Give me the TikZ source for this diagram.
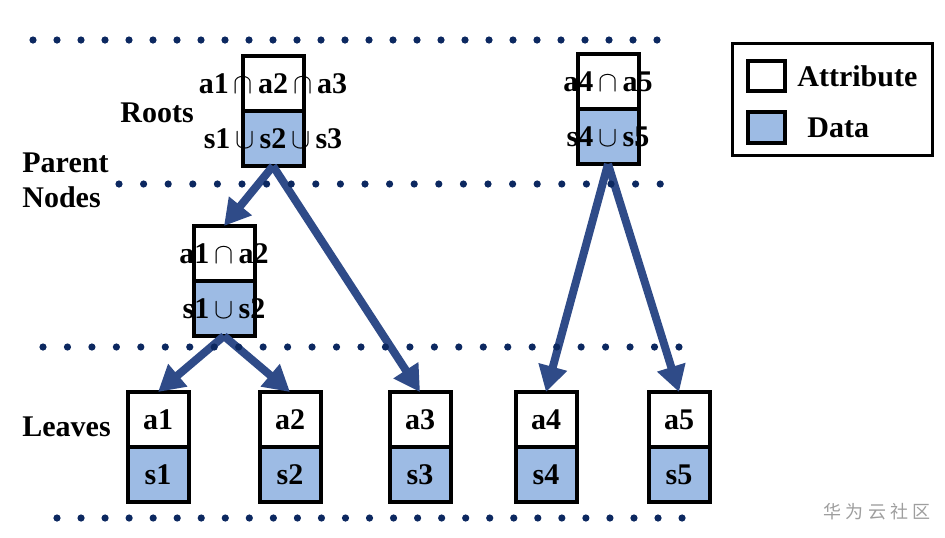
\documentclass[tikz,border=0pt]{standalone}
\usepackage{fontspec}
\setmainfont{Liberation Serif}
\newfontfamily\cjk{Noto Sans CJK SC}
\usetikzlibrary{positioning,arrows.meta}

\definecolor{cellblue}{RGB}{157,187,228}
\definecolor{dotnavy}{RGB}{12,40,96}
\definecolor{arrownavy}{RGB}{47,75,136}
\newcommand{\spill}[1]{\makebox[0pt]{#1}}

\begin{document}
\begin{tikzpicture}[%
    x=0.5pt,
    y=-0.5pt,
    font=\fontsize{15}{17.5}\selectfont\bfseries,
    >={Triangle[length=13pt,width=14pt]},
    attr/.style={%
      rectangle,
      minimum width=30.5pt,
      minimum height=27.5pt,
      inner sep=0pt,
      outer sep=0pt,
      line width=2pt,
      fill=white,
      draw
    },
    data/.style={attr, fill=cellblue},
    link/.style={->, draw=arrownavy, line width=4pt},
    tag/.style={inner sep=0pt, anchor=west}
  ]
    \useasboundingbox (0,0) rectangle (945,537);

    % roots and parent node
    \node[attr] (a123) at (273,83.5) {\spill{a1\,$\cap$\,a2\,$\cap$\,a3}};
    \node[data] (s123) [below=0pt of a123] {\spill{s1\,$\cup$\,s2\,$\cup$\,s3}};
    \node[attr] (a45) at (608,81.5) {\spill{a4\,$\cap$\,a5}};
    \node[data] (s45) [below=0pt of a45] {\spill{s4\,$\cup$\,s5}};
    \node[attr] (a12) at (224,253.5) {\spill{a1\,$\cap$\,a2}};
    \node[data] (s12) [below=0pt of a12] {\spill{s1\,$\cup$\,s2}};

    % leaves
    \foreach \n/\x in {1/158,2/290,3/420,4/546,5/679} {
      \node[attr] (a\n) at (\x,419.5) {a\n};
      \node[data] (s\n) [below=0pt of a\n] {s\n};
    }

    \foreach \f/\t in {s123/a12,s123/a3,s12/a1,s12/a2,s45/a4,s45/a5}
      \draw[link] (\f.south) -- (\t.north);

    % level labels
    \node[tag] (roots) at (120,113) {Roots};
    \node[tag, align=left] (parent) at (22,180.5) {Parent\\Nodes};
    \node[tag] (leaves) at (22,427) {Leaves};

    % legend
    \node[draw, line width=1.5pt, minimum width=100pt, minimum height=56pt,
      outer sep=0pt] (legend) at (832.5,99.5) {};
    \node[attr, minimum width=18.5pt, minimum height=15pt] (keyattr) at (766.5,76) {};
    \node[data, minimum width=18.5pt, minimum height=15.5pt] (keydata) at (766.5,127.5) {};
    \node[tag, right=6pt of keyattr] (attrtext) {Attribute};
    \node[tag, right=11pt of keydata] (datatext) {Data};

    % dotted level lines
    \foreach \i in {0,...,26} \fill[dotnavy] (33+24*\i,40) circle (1.8pt);
    \foreach \i in {0,...,22} \fill[dotnavy] (119+24.6*\i,184) circle (1.8pt);
    \foreach \i in {0,...,26} \fill[dotnavy] (43+24.46*\i,347) circle (1.8pt);
    \foreach \i in {0,...,26} \fill[dotnavy] (57+24.04*\i,518) circle (1.8pt);

    \node[font=\cjk\fontsize{9}{11}\selectfont, text=black!38] (mark) at (877,512) {华 为 云 社 区};
\end{tikzpicture}
\end{document}
